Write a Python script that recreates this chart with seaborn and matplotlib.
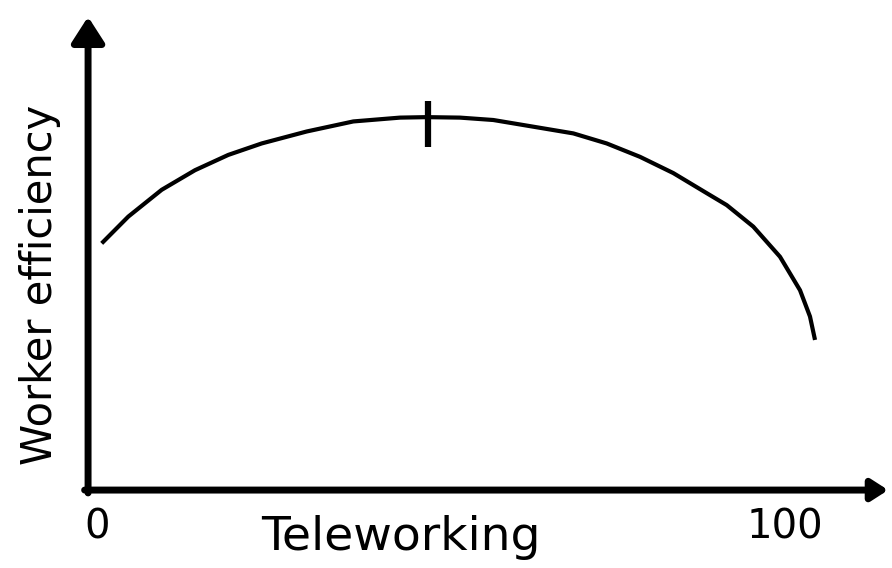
import matplotlib
matplotlib.use("Agg")
import matplotlib.pyplot as plt
import seaborn as sns
import pandas as pd

# ---- data ----
teleworking = [0.68, 4.55, 9.40, 14.24, 19.08, 23.94, 30.48, 37.25, 44.04, 47.92, 52.76,
               57.60, 63.42, 69.23, 74.08, 78.92, 83.76, 88.62, 91.53, 95.39, 99.27,
               102.18, 103.63, 104.36]
efficiency = [51.6, 57.2, 62.8, 66.9, 70.1, 72.5, 75.0, 77.1, 77.9, 78.0, 77.9,
              77.4, 76.0, 74.6, 72.5, 69.7, 66.3, 62.1, 59.6, 55.1, 48.8,
              41.8, 36.3, 31.4]
peak_x = [48.1]
peak_y = [76.5]
tick_vals = [0, 100]
tick_labels = ["0", "100"]
x_label = "Teleworking"
y_label = "Worker efficiency"

sns.set_theme(style="white")
plt.rcParams["font.family"] = ["DejaVu Sans"]

fig = plt.figure(figsize=(8.92, 5.68), dpi=100)
ax = fig.add_axes([0, 0, 1, 1])
ax.set_xlim(-14.1, 115.55)
ax.set_ylim(-16.3, 102.5)
for s in ax.spines.values():
    s.set_visible(False)
ax.set_xticks([])
ax.set_yticks([])

df = pd.DataFrame({"x": teleworking, "y": efficiency})
sns.lineplot(data=df, x="x", y="y", sort=False, color="black", lw=3, ax=ax,
             solid_joinstyle="round", solid_capstyle="butt")
ax.set_xlabel("")
ax.set_ylabel("")

# peak tick mark
ax.plot(peak_x, peak_y, marker="|", markersize=33, mew=4.5, color="black", ls="none")

# axes arrows
x0, y0 = -1.3, 0.0
ap_y = dict(arrowstyle="-|>,head_length=0.7,head_width=0.45", lw=5, color="black",
            mutation_scale=22, shrinkA=0, shrinkB=0)
ap_x = dict(arrowstyle="-|>,head_length=0.7,head_width=0.45", lw=5, color="black",
            mutation_scale=14, shrinkA=0, shrinkB=0)
ax.annotate("", xy=(x0, 99.0), xytext=(x0, y0 - 0.6), arrowprops=ap_y)
ax.annotate("", xy=(115.0, y0), xytext=(x0 - 0.5, y0), arrowprops=ap_x)

# tick labels
for v, lab in zip(tick_vals, tick_labels):
    ax.text(v, -7.9, lab, ha="center", va="center", fontsize=29, color="black")

fig.text(401 / 892, 1 - 550 / 568, x_label, ha="center", va="baseline", fontsize=34, color="black")
fig.text(40 / 892, 1 - 285 / 568, y_label, rotation=90, ha="center", va="center",
         fontsize=30, color="black")

fig.savefig("out.png", dpi=100, facecolor="white")
